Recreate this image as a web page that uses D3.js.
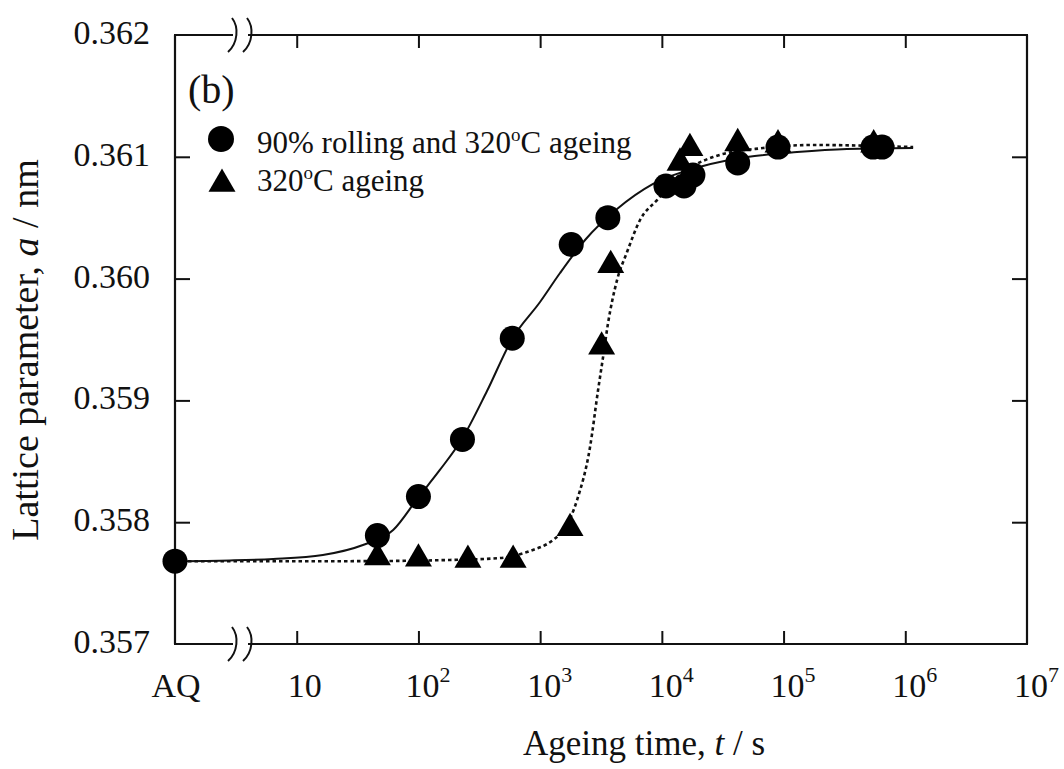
<!DOCTYPE html>
<html>
<head>
<meta charset="utf-8">
<script src="https://cdn.jsdelivr.net/npm/d3@7"></script>
<style>
  body { margin: 0; background: #fff; }
  text { font-family: "Liberation Serif", "DejaVu Serif", serif; fill: #111; }
</style>
</head>
<body>
<div id="chart"></div>
<script>
// measured points, ageing time t (s, AQ plotted at t = 1) and lattice parameter a (nm)
var rolledT = [1, 46, 100, 230, 590, 1800, 3600, 10800, 15200, 18000, 42000, 90000, 543000, 644000];
var rolledA = [0.35768, 0.35789, 0.35821, 0.35868, 0.35951, 0.36028, 0.36050, 0.36076, 0.36076, 0.36085, 0.36095, 0.36108, 0.36108, 0.36108];

var agedT = [46, 100, 255, 600, 1760, 3200, 3800, 14100, 17000, 42000, 90000, 550000];
var agedA = [0.35771, 0.35770, 0.35769, 0.35769, 0.35795, 0.35944, 0.36011, 0.36095, 0.36107, 0.36111, 0.36110, 0.36110];

// fitted curves
var rolledFitT = [1, 2.83, 6.4, 16.4, 35, 62, 99, 150, 228, 366, 588, 998, 1457, 2339, 4285, 8470, 21800, 50100, 129000, 332000, 1160000];
var rolledFitA = [0.35768, 0.357686, 0.357698, 0.357731, 0.357813, 0.357936, 0.358199, 0.358429, 0.358683, 0.359077, 0.359504, 0.359808, 0.360046, 0.360317, 0.360571, 0.360777, 0.360924, 0.360998, 0.361039, 0.361064, 0.361072];

var agedFitT = [1, 4.1, 27.4, 182, 469, 826, 1276, 1602, 2010, 2570, 2992, 3289, 3615, 4285, 5175, 6620, 9128, 14100, 26300, 67800, 174800, 1160000];
var agedFitA = [0.35768, 0.35768, 0.35768, 0.35769, 0.357706, 0.357764, 0.357854, 0.357952, 0.358182, 0.358617, 0.359085, 0.359356, 0.359635, 0.359988, 0.360218, 0.360481, 0.360645, 0.360851, 0.360998, 0.361072, 0.361097, 0.361080];

var xTicks = [1, 10, 1e2, 1e3, 1e4, 1e5, 1e6, 1e7];
var xTickLabels = ["AQ", "10", "2", "3", "4", "5", "6", "7"];
var yTicks = [0.357, 0.358, 0.359, 0.360, 0.361, 0.362];

var width = 1064, height = 769;
var plotL = 175, plotR = 1027, plotT = 35, plotB = 644;

var svg = d3.select("#chart").append("svg")
    .attr("width", width)
    .attr("height", height);

svg.append("rect").attr("width", width).attr("height", height).attr("fill", "#fff");

var x = d3.scaleLog().domain([1, 1e7]).range([plotL, plotR]);
var y = d3.scaleLinear().domain([0.357, 0.362]).range([plotB, plotT]);

function zip(ts, as) {
  return ts.map(function(t, i) { return {t: t, a: as[i]}; });
}

// ticks, all pointing inwards
svg.append("g")
    .attr("transform", "translate(0," + plotB + ")")
    .call(d3.axisBottom(x).tickValues(xTicks.slice(1, -1)).tickSize(-13).tickFormat(""))
    .call(function(g) { g.select(".domain").remove(); });

svg.append("g")
    .attr("transform", "translate(0," + plotT + ")")
    .call(d3.axisTop(x).tickValues(xTicks.slice(1, -1)).tickSize(-13).tickFormat(""))
    .call(function(g) { g.select(".domain").remove(); });

var yAxis = svg.append("g")
    .attr("transform", "translate(" + plotL + ",0)")
    .call(d3.axisLeft(y).tickValues(yTicks).tickSize(-15).tickPadding(25).tickFormat(d3.format(".3f")))
    .call(function(g) { g.select(".domain").remove(); });
yAxis.selectAll(".tick text")
    .attr("dy", "0.25em")
    .style("font-size", "34px")
    .style("font-family", "Liberation Serif");
yAxis.selectAll(".tick").filter(function(d) { return d === 0.357 || d === 0.362; }).select("line").remove();

svg.append("g")
    .attr("transform", "translate(" + plotR + ",0)")
    .call(d3.axisRight(y).tickValues(yTicks.slice(1, -1)).tickSize(-15).tickFormat(""))
    .call(function(g) { g.select(".domain").remove(); });

svg.selectAll(".tick line").attr("stroke", "#111").attr("stroke-width", 2);

// frame with the axis break between AQ and 10
var gapA = 233, gapB = 248;
var frame = svg.append("g").attr("stroke", "#111").attr("stroke-width", 2.2).attr("fill", "none");
[plotT, plotB].forEach(function(yy) {
  frame.append("line").attr("x1", plotL - 1).attr("x2", gapA).attr("y1", yy).attr("y2", yy);
  frame.append("line").attr("x1", gapB).attr("x2", plotR + 1).attr("y1", yy).attr("y2", yy);
  [gapA, gapB].forEach(function(bx) {
    frame.append("path")
        .attr("stroke-width", 2)
        .attr("d", "M" + (bx - 1) + "," + (yy - 17) + " C" + (bx + 6) + "," + (yy - 8) + " " + (bx + 5) + "," + (yy + 8) + " " + (bx - 5) + "," + (yy + 17));
  });
});
frame.append("line").attr("x1", plotL).attr("x2", plotL).attr("y1", plotT).attr("y2", plotB);
frame.append("line").attr("x1", plotR).attr("x2", plotR).attr("y1", plotT).attr("y2", plotB);

// x tick labels
var xl = svg.append("g").style("font-size", "34px");
xTicks.forEach(function(t, i) {
  if (i === 0) {
    xl.append("text").attr("x", x(t) + 1).attr("y", 697).attr("text-anchor", "middle").text("AQ");
  } else if (i === 1) {
    xl.append("text").attr("x", x(t) - 9).attr("y", 697).text("10");
  } else {
    var tx = xl.append("text").attr("x", x(t) - 13).attr("y", 697).text("10");
    tx.append("tspan").attr("dy", -15).style("font-size", "22px").text(xTickLabels[i]);
  }
});

// axis titles
var xt = svg.append("text")
    .attr("x", 644).attr("y", 755)
    .attr("text-anchor", "middle")
    .style("font-size", "35px")
    .text("Ageing time, ");
xt.append("tspan").style("font-style", "italic").text("t");
xt.append("tspan").text(" / s");

var yt = svg.append("text")
    .attr("transform", "translate(38,350) rotate(-90)")
    .attr("text-anchor", "middle")
    .style("font-size", "38px")
    .text("Lattice parameter, ");
yt.append("tspan").style("font-style", "italic").text("a");
yt.append("tspan").text(" / nm");

svg.append("text").attr("x", 188).attr("y", 103).style("font-size", "40px").text("(b)");

// fitted curves
var line = d3.line()
    .x(function(d) { return x(d.t); })
    .y(function(d) { return y(d.a); })
    .curve(d3.curveMonotoneX);

svg.append("path")
    .datum(zip(agedFitT, agedFitA))
    .attr("fill", "none")
    .attr("stroke", "#111")
    .attr("stroke-width", 2.6)
    .attr("stroke-dasharray", "3.5,3")
    .attr("d", line);

svg.append("path")
    .datum(zip(rolledFitT, rolledFitA))
    .attr("fill", "none")
    .attr("stroke", "#111")
    .attr("stroke-width", 2)
    .attr("d", line);

// points
var tri = d3.symbol().type(d3.symbolTriangle).size(315);

svg.append("g").selectAll("path")
    .data(zip(agedT, agedA))
    .enter().append("path")
    .attr("transform", function(d) { return "translate(" + x(d.t) + "," + y(d.a) + ")"; })
    .attr("d", tri)
    .attr("fill", "#000");

svg.append("g").selectAll("circle")
    .data(zip(rolledT, rolledA))
    .enter().append("circle")
    .attr("cx", function(d) { return x(d.t); })
    .attr("cy", function(d) { return y(d.a); })
    .attr("r", 12.5)
    .attr("fill", "#000");

// legend
var legend = svg.append("g").style("font-size", "31px");
legend.append("circle").attr("cx", 221).attr("cy", 139).attr("r", 13).attr("fill", "#000");
legend.append("path").attr("transform", "translate(222,184)").attr("d", tri).attr("fill", "#000");

var l1 = legend.append("text").attr("x", 257).attr("y", 153).text("90% rolling and 320");
l1.append("tspan").attr("dy", -12).style("font-size", "19px").text("o");
l1.append("tspan").attr("dy", 12).text("C ageing");

var l2 = legend.append("text").attr("x", 257).attr("y", 191).text("320");
l2.append("tspan").attr("dy", -12).style("font-size", "19px").text("o");
l2.append("tspan").attr("dy", 12).text("C ageing");
</script>
</body>
</html>
